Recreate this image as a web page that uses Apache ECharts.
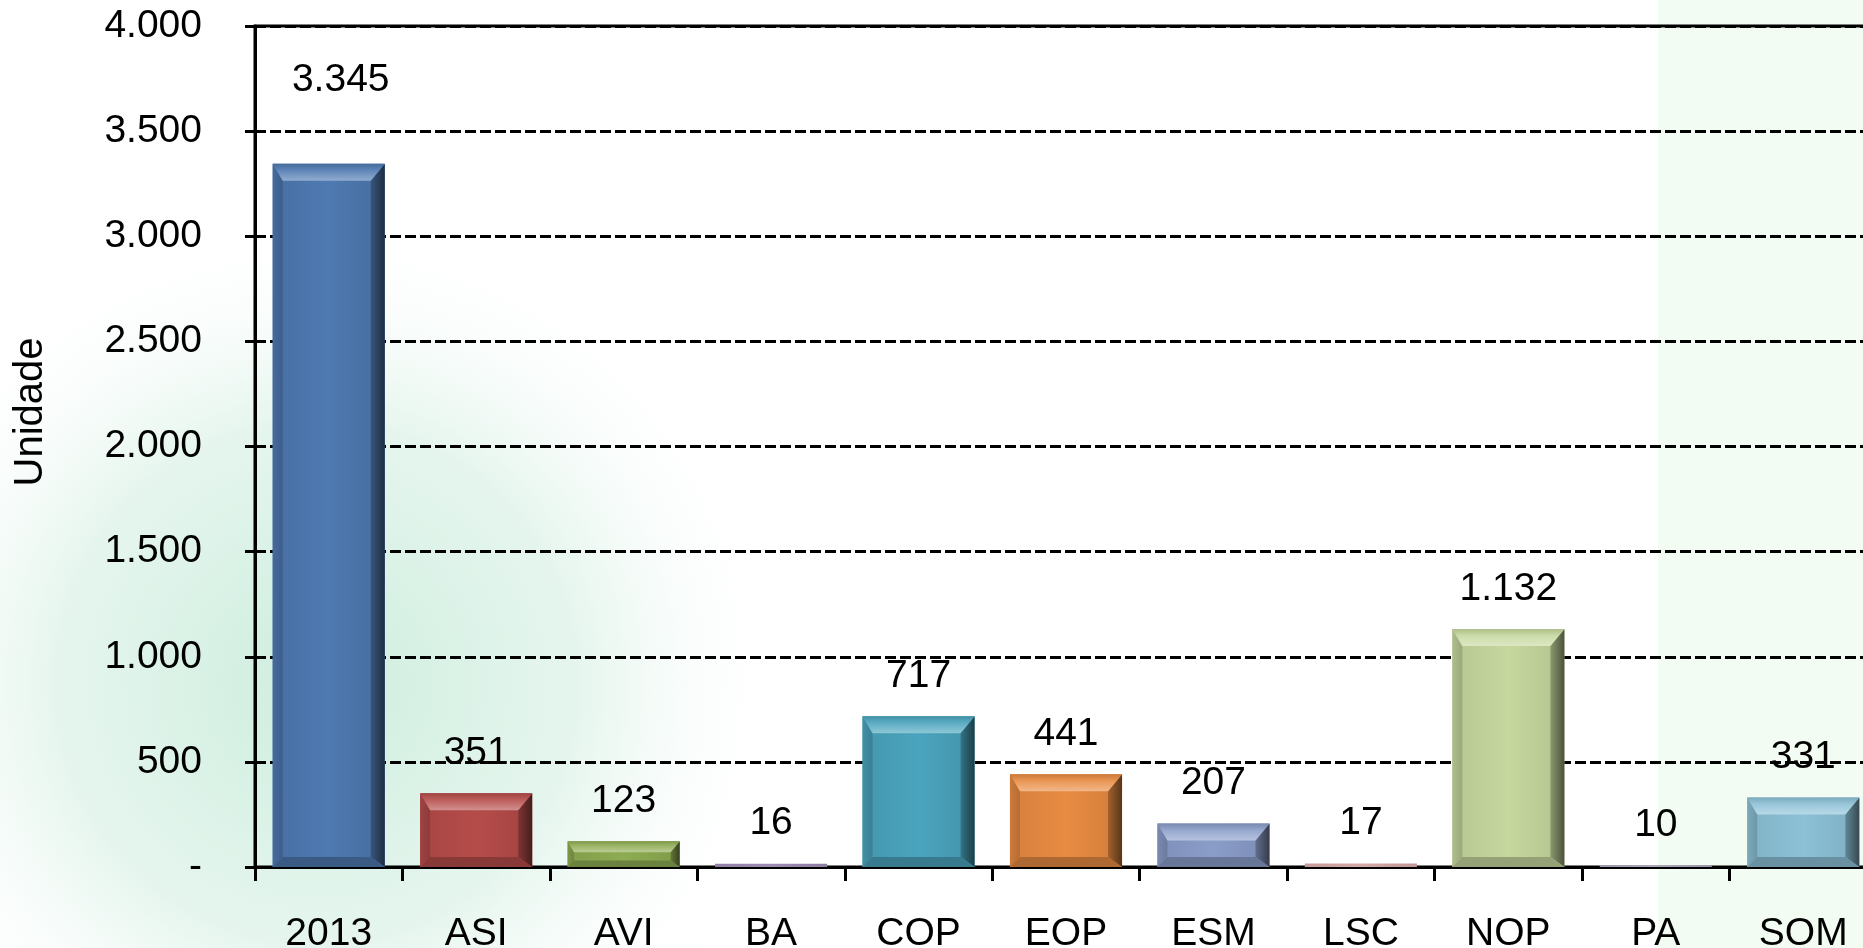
<!DOCTYPE html>
<html>
<head>
<meta charset="utf-8">
<script src="https://cdn.jsdelivr.net/npm/echarts@6/dist/echarts.min.js"></script>
<style>
  html, body { margin: 0; padding: 0; background: #ffffff; overflow: hidden; }
  #chart { width: 1863px; height: 948px; }
</style>
</head>
<body>
<div id="chart"></div>
<script>
// ---- data ----
const categories = ['2013', 'ASI', 'AVI', 'BA', 'COP', 'EOP', 'ESM', 'LSC', 'NOP', 'PA', 'SOM'];
const values = [3345, 351, 123, 16, 717, 441, 207, 17, 1132, 10, 331];
const barColors = ['#4E79B1', '#B54C4A', '#8EAC52', '#9E8CB2', '#4AA4BD', '#E88B42', '#8A9DC9', '#D6A8A9', '#C6D89E', '#ABA6B8', '#8CC1D6'];
const yTickLabels = ['-', '500', '1.000', '1.500', '2.000', '2.500', '3.000', '3.500', '4.000'];
const yAxisTitle = 'Unidade';

// ---- helpers ----
const FONT = '"Liberation Sans", Arial, Helvetica, sans-serif';
function fmt(v) { return String(v).replace(/\B(?=(\d{3})+(?!\d))/g, '.'); }
function hexToRgb(h) { h = h.replace('#', ''); return [0, 2, 4].map(k => parseInt(h.substr(k, 2), 16)); }
function shade(hex, f) {
  const c = hexToRgb(hex);
  const r = c.map(x => f >= 0 ? Math.round(x + (255 - x) * f) : Math.round(x * (1 + f)));
  return 'rgb(' + r.join(',') + ')';
}
const BAR_RATIO = 0.76;

function renderItem(params, api) {
  const i = api.value(0), v = api.value(1);
  const top = api.coord([i, v]);
  const bot = api.coord([i, 0]);
  const w = api.size([1, 0])[0] * BAR_RATIO;
  const x0 = top[0] - w / 2, x1 = top[0] + w / 2;
  const y0 = top[1], y1 = bot[1];
  const h = Math.max(y1 - y0, 1.5);
  const c = barColors[i];
  const k = Math.min(1, h / 40);
  const bl = 10 * k, br = 14 * k, bt = 17 * k, bb = 10 * k;
  const ch = [];
  ch.push({ type: 'rect', shape: { x: x0, y: y1 - h, width: w, height: h },
    style: { fill: new echarts.graphic.LinearGradient(0, 0, 1, 0, [
      { offset: 0, color: shade(c, -0.08) }, { offset: 0.5, color: c }, { offset: 1, color: shade(c, -0.1) }]) } });
  if (h > 8) {
    ch.push({ type: 'polygon', shape: { points: [[x0, y0], [x0 + bl, y0 + bt], [x0 + bl, y1 - bb], [x0, y1]] },
      style: { fill: new echarts.graphic.LinearGradient(0, 0, 1, 0, [
        { offset: 0, color: shade(c, -0.12) }, { offset: 1, color: shade(c, -0.22) }]) } });
    ch.push({ type: 'polygon', shape: { points: [[x1, y0], [x1 - br, y0 + bt], [x1 - br, y1 - bb], [x1, y1]] },
      style: { fill: new echarts.graphic.LinearGradient(0, 0, 1, 0, [
        { offset: 0, color: shade(c, -0.3) }, { offset: 1, color: shade(c, -0.62) }]) } });
    ch.push({ type: 'polygon', shape: { points: [[x0, y0], [x1, y0], [x1 - br, y0 + bt], [x0 + bl, y0 + bt]] },
      style: { fill: new echarts.graphic.LinearGradient(0, 0, 0, 1, [
        { offset: 0, color: shade(c, -0.12) }, { offset: 0.4, color: shade(c, 0.1) }, { offset: 1, color: shade(c, 0.38) }]) } });
    ch.push({ type: 'polygon', shape: { points: [[x0, y1], [x1, y1], [x1 - br, y1 - bb], [x0 + bl, y1 - bb]] },
      style: { fill: shade(c, -0.25) } });
  }
  // value label (the first label sits higher in the original)
  const extra = i === 0 ? 43 : 0;
  const dx = i === 0 ? 12 : 0;
  ch.push({ type: 'text', x: top[0] + dx, y: y0 - 40 - extra,
    style: { text: fmt(v), fill: '#000', fontSize: 39, fontFamily: FONT, align: 'center', verticalAlign: 'middle' } });
  return { type: 'group', children: ch };
}

const chart = echarts.init(document.getElementById('chart'), null, { renderer: 'canvas' });
chart.setOption({
  animation: false,
  backgroundColor: '#ffffff',
  graphic: [
    { type: 'rect', z: -10, shape: { x: 0, y: 0, width: 1863, height: 948 },
      style: { fill: new echarts.graphic.RadialGradient(0.17, 0.72, 0.5, [
        { offset: 0, color: 'rgba(196,234,216,0.85)' }, { offset: 0.55, color: 'rgba(212,239,226,0.6)' }, { offset: 1, color: 'rgba(255,255,255,0)' }]) }, silent: true },
    { type: 'rect', z: -10, shape: { x: 1658, y: 0, width: 205, height: 948 },
      style: { fill: '#f3fcf3' }, silent: true },
    { type: 'text', x: 31, y: 412, rotation: Math.PI / 2,
      style: { text: yAxisTitle, fill: '#000', fontSize: 40, fontFamily: FONT, align: 'center', verticalAlign: 'middle' } }
  ],
  grid: { left: 255, top: 26, width: 1622, height: 841, outerBoundsMode: 'none', containLabel: false,
    show: true, borderColor: '#000', borderWidth: 3, backgroundColor: 'transparent' },
  xAxis: {
    type: 'category', data: categories, boundaryGap: true,
    axisLine: { show: true, lineStyle: { color: '#000', width: 3 } },
    axisTick: { show: true, length: 14, lineStyle: { color: '#000', width: 3 } },
    axisLabel: { color: '#000', fontSize: 39, fontFamily: FONT, margin: 48, interval: 0 },
    splitLine: { show: false }
  },
  yAxis: {
    type: 'value', min: 0, max: 4000, interval: 500,
    axisLine: { show: true, lineStyle: { color: '#000', width: 3 } },
    axisTick: { show: true, length: 10, lineStyle: { color: '#000', width: 3 } },
    axisLabel: { color: '#000', fontSize: 39, fontFamily: FONT, margin: 53,
      formatter: v => yTickLabels[Math.round(v / 500)] },
    splitLine: { show: true, lineStyle: { color: '#000', width: 3, type: [11, 4] } }
  },
  series: [{
    type: 'custom',
    renderItem: renderItem,
    clip: false,
    encode: { x: 0, y: 1 },
    data: values.map((v, i) => [i, v])
  }]
});
</script>
</body>
</html>
